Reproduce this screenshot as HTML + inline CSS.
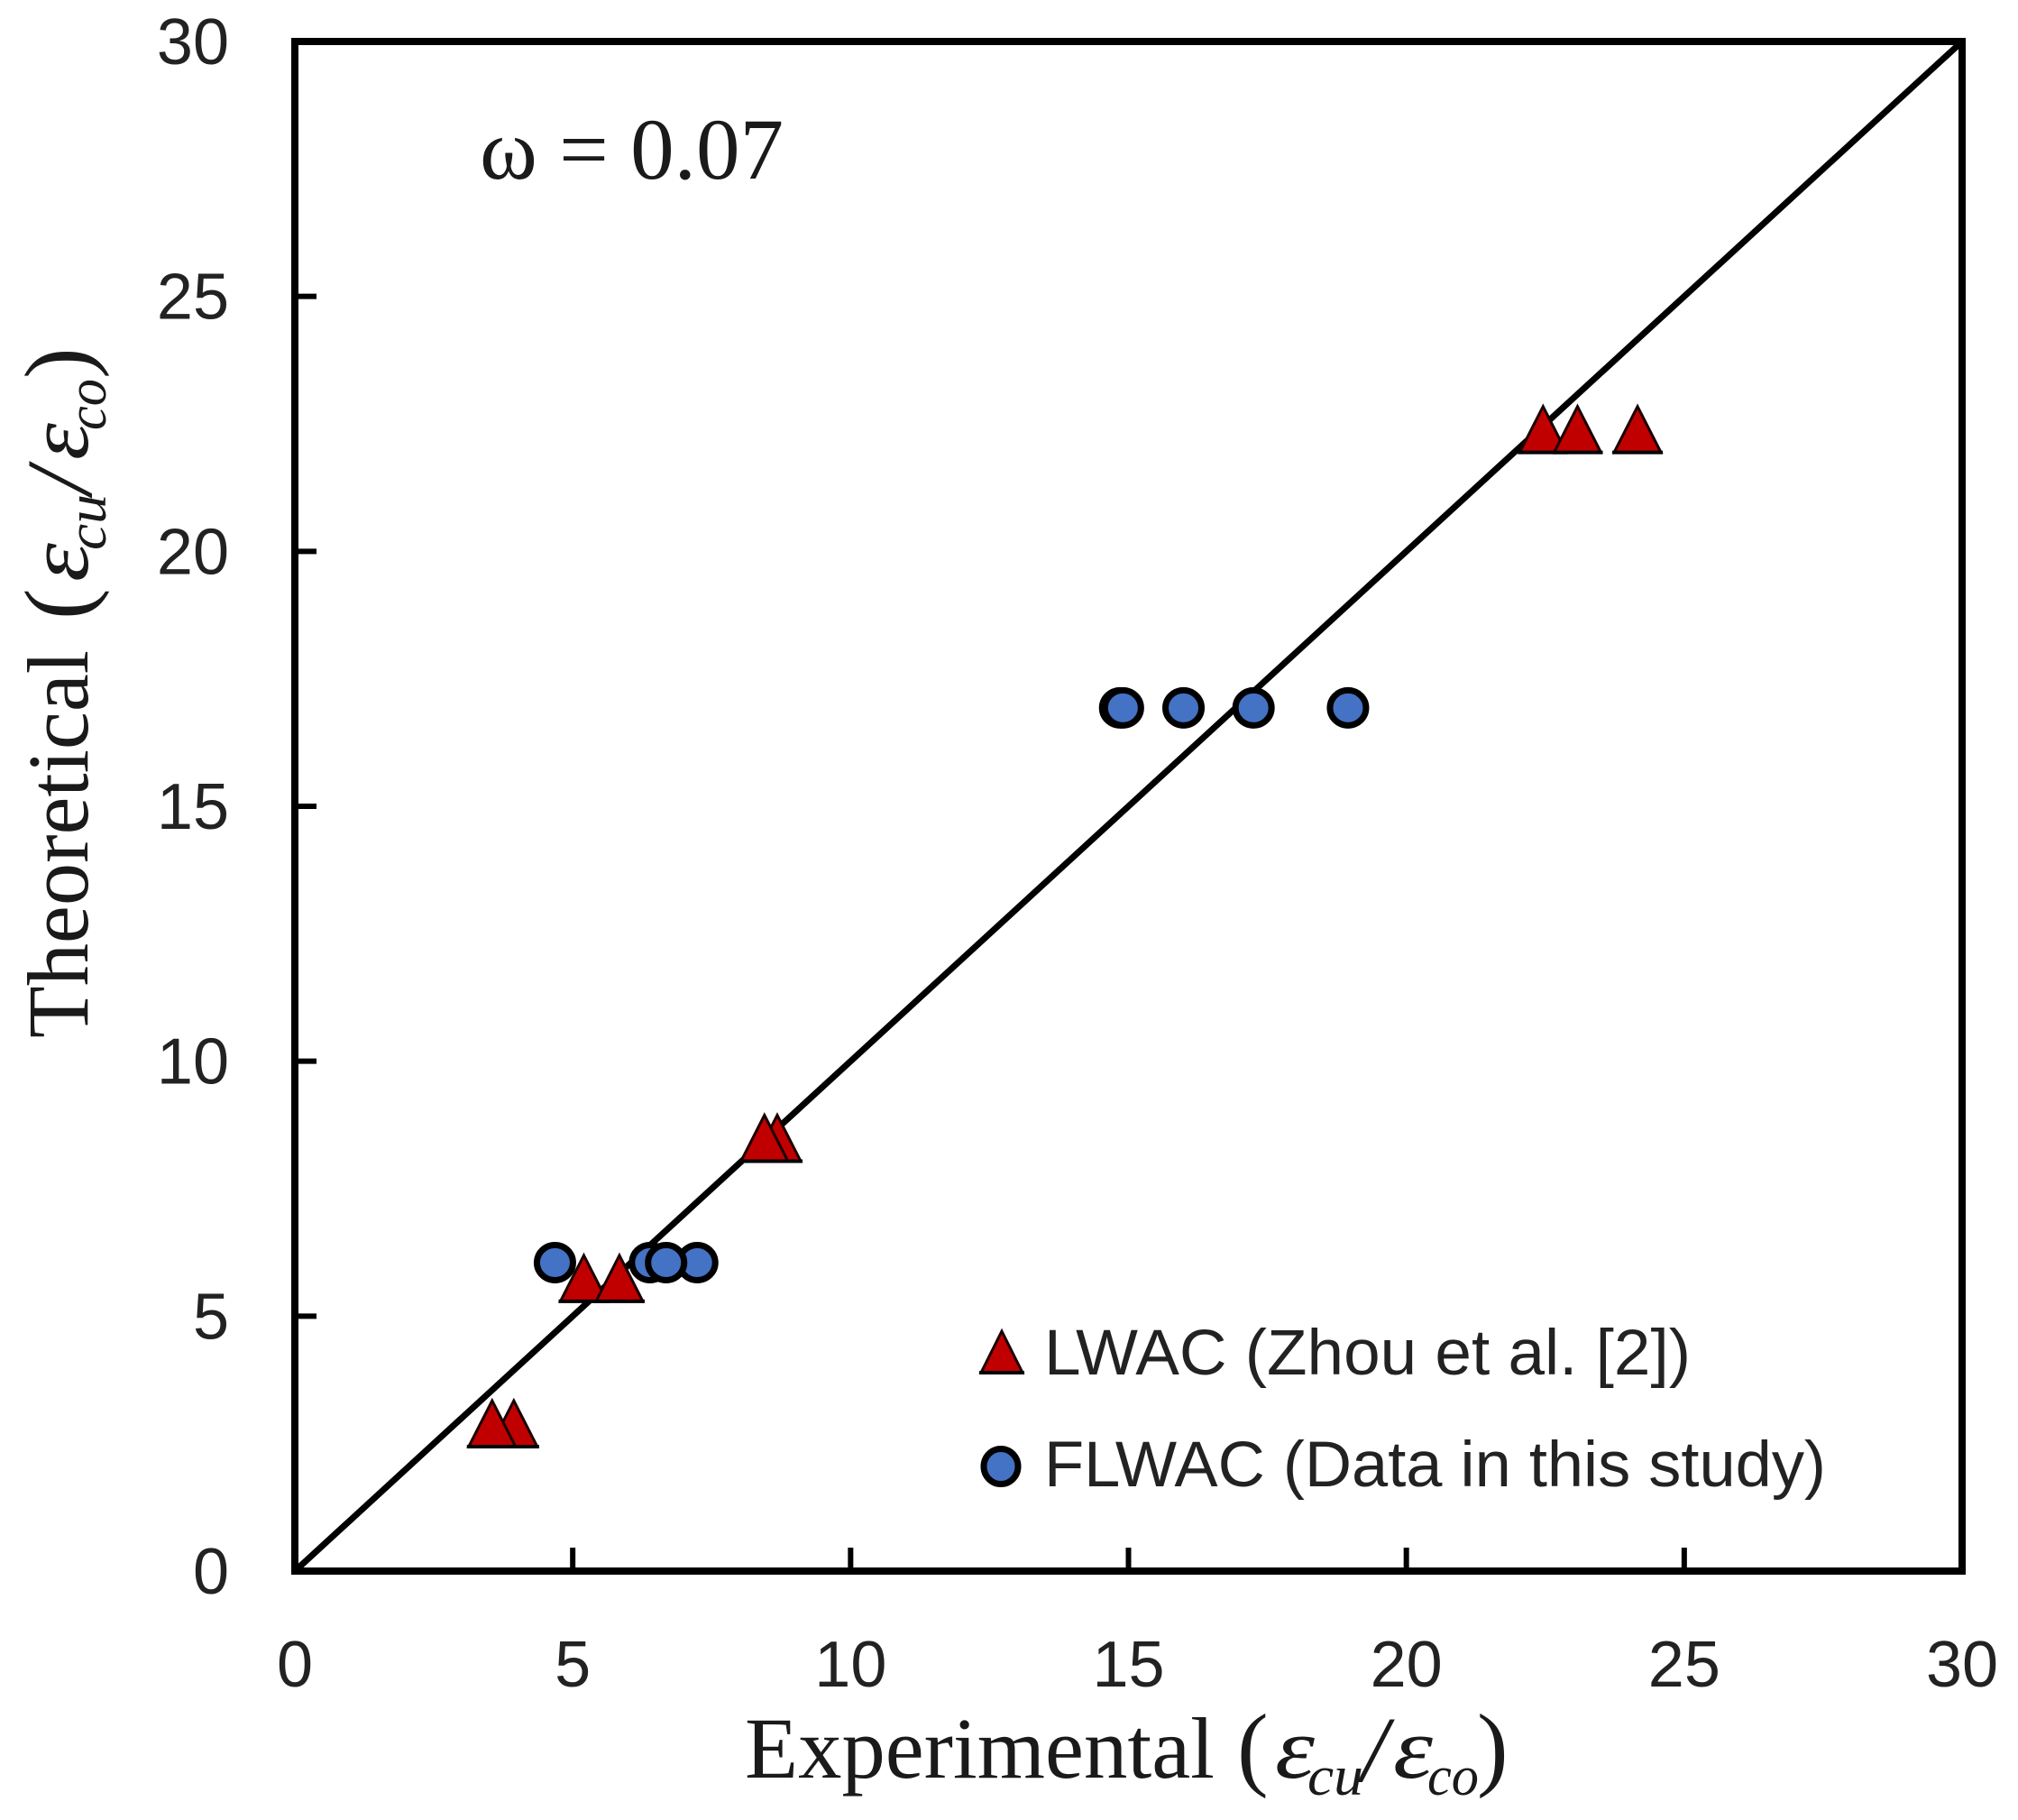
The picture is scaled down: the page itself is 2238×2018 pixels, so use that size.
<!DOCTYPE html>
<html lang="en">
<head>
<meta charset="utf-8">
<title>Theoretical vs Experimental</title>
<style>
  html, body { margin: 0; padding: 0; background: #fff; }
  svg { display: block; }
  .tick { font-family: "Liberation Sans", sans-serif; font-size: 72px; fill: #222; }
  .legend { font-family: "Liberation Sans", sans-serif; font-size: 71px; fill: #222; }
  .title { font-family: "Liberation Serif", serif; font-size: 96px; fill: #1a1a1a; }
  .paren { font-family: "Liberation Serif", serif; font-size: 104px; fill: #1a1a1a; }
  .slash { font-family: "Liberation Serif", serif; font-style: italic; font-size: 104px; fill: #1a1a1a; }
  .eps { font-family: "Liberation Serif", serif; font-style: italic; font-size: 96px; fill: #1a1a1a; }
  .sub { font-family: "Liberation Serif", serif; font-style: italic; font-size: 62px; fill: #1a1a1a; }
</style>
</head>
<body>
<svg id="chart" xmlns="http://www.w3.org/2000/svg" width="2238" height="2018" viewBox="0 0 2238 2018">
  <rect x="0" y="0" width="2238" height="2018" fill="#ffffff"/>
  <g id="plot"></g>

  <text class="title" x="532" y="198" textLength="337" lengthAdjust="spacingAndGlyphs">ω = 0.07</text>

  <g>
    <text class="title" x="826" y="1971" textLength="521" lengthAdjust="spacingAndGlyphs">Experimental</text>
    <text class="paren" x="1372" y="1972">(</text>
    <text class="eps" x="1414" y="1971" textLength="44" lengthAdjust="spacingAndGlyphs">ε</text>
    <text class="sub" x="1450" y="1990" textLength="62" lengthAdjust="spacingAndGlyphs">cu</text>
    <text class="slash" x="1510" y="1975">/</text>
    <text class="eps" x="1545" y="1971" textLength="44" lengthAdjust="spacingAndGlyphs">ε</text>
    <text class="sub" x="1583" y="1990" textLength="57" lengthAdjust="spacingAndGlyphs">co</text>
    <text class="paren" x="1638" y="1972">)</text>
  </g>

  <g transform="translate(97,1151) rotate(-90)">
    <text class="title" x="0" y="0" textLength="430" lengthAdjust="spacingAndGlyphs">Theoretical</text>
    <text class="paren" x="464" y="2">(</text>
    <text class="eps" x="506" y="0" textLength="43" lengthAdjust="spacingAndGlyphs">ε</text>
    <text class="sub" x="541" y="20" textLength="62" lengthAdjust="spacingAndGlyphs">cu</text>
    <text class="slash" x="603" y="4">/</text>
    <text class="eps" x="641" y="0" textLength="41" lengthAdjust="spacingAndGlyphs">ε</text>
    <text class="sub" x="674" y="20" textLength="57" lengthAdjust="spacingAndGlyphs">co</text>
    <text class="paren" x="731" y="2">)</text>
  </g>

  <g>
    <g>
      <path d="M1111 1476 L1134 1522 L1088 1522 Z" fill="#c00000" stroke="#1a0000" stroke-width="3"/>
      <line x1="1086" x2="1136" y1="1522" y2="1522" stroke="#000" stroke-width="4"/>
      <text class="legend" x="1158" y="1524" textLength="717" lengthAdjust="spacingAndGlyphs">LWAC (Zhou et al. [2])</text>
    </g>
    <g>
      <ellipse cx="1110" cy="1626" rx="19" ry="19.5" fill="#4472c4" stroke="#000" stroke-width="7"/>
      <text class="legend" x="1158" y="1648" textLength="867" lengthAdjust="spacingAndGlyphs">FLWAC (Data in this study)</text>
    </g>
  </g>
</svg>
<script>
// Chart data
const xTicks = [0, 5, 10, 15, 20, 25, 30];
const yTicks = [0, 5, 10, 15, 20, 25, 30];
const xTickLabels = ['0', '5', '10', '15', '20', '25', '30'];
const yTickLabels = ['0', '5', '10', '15', '20', '25', '30'];
const diagonalX = [0, 30];
const diagonalY = [0, 30];
const flwacX = [4.68, 7.24, 6.39, 6.68, 14.85, 14.9, 15.99, 17.25, 18.95];
const flwacY = [6.05, 6.05, 6.05, 6.05, 16.93, 16.93, 16.93, 16.93, 16.93];
const lwacX = [3.94, 3.55, 5.2, 5.84, 8.68, 8.45, 22.46, 23.08, 24.16];
const lwacY = [2.9, 2.9, 5.75, 5.75, 8.5, 8.5, 22.4, 22.4, 22.4];

// Axis functions
const AXIS_X0 = 327, AXIS_X1 = 2176, AXIS_Y0 = 1742, AXIS_Y1 = 46;
const AXIS_MAX = 30;
function xScale(v) { return AXIS_X0 + (AXIS_X1 - AXIS_X0) * v / AXIS_MAX; }
function yScale(v) { return AXIS_Y0 - (AXIS_Y0 - AXIS_Y1) * v / AXIS_MAX; }

const NS = 'http://www.w3.org/2000/svg';
const plot = document.getElementById('plot');
function make(tag, attrs, parent) {
  const node = document.createElementNS(NS, tag);
  for (const k in attrs) node.setAttribute(k, attrs[k]);
  (parent || plot).appendChild(node);
  return node;
}

// Diagonal reference line
const diag = make('line', {
  x1: xScale(diagonalX[0]), y1: yScale(diagonalY[0]),
  x2: xScale(diagonalX[1]), y2: yScale(diagonalY[1]),
  stroke: '#000', 'stroke-width': 7
});



// Frame
const frame = make('rect', {
  x: AXIS_X0, y: AXIS_Y1, width: AXIS_X1 - AXIS_X0, height: AXIS_Y0 - AXIS_Y1,
  fill: 'none', stroke: '#000', 'stroke-width': 8
});



// X ticks and labels
xTicks.forEach(function (v, i) {
  if (v > 0 && v < AXIS_MAX) {
    const t = make('line', {
      x1: xScale(v), x2: xScale(v), y1: AXIS_Y0, y2: AXIS_Y0 - 26,
      stroke: '#000', 'stroke-width': 6
    });
    
    
  }
  const label = make('text', {
    class: 'tick', x: xScale(v), y: 1870, 'text-anchor': 'middle'
  });
  label.textContent = xTickLabels[i];
  
  
});

// Y ticks and labels
yTicks.forEach(function (v, i) {
  if (v > 0 && v < AXIS_MAX) {
    const t = make('line', {
      x1: AXIS_X0, x2: AXIS_X0 + 24, y1: yScale(v), y2: yScale(v),
      stroke: '#000', 'stroke-width': 6
    });
    
    
  }
  const label = make('text', {
    class: 'tick', x: 254, y: yScale(v) + 25, 'text-anchor': 'end'
  });
  label.textContent = yTickLabels[i];
  
  
});

// FLWAC circles
flwacX.forEach(function (v, i) {
  const c = make('ellipse', {
    cx: xScale(v), cy: yScale(flwacY[i]), rx: 20, ry: 19.5,
    fill: '#4472c4', stroke: '#000', 'stroke-width': 7
  });
  
  
});

// LWAC triangles
lwacX.forEach(function (v, i) {
  const cx = xScale(v), cy = yScale(lwacY[i]);
  const tri = make('path', {
    d: 'M' + cx + ' ' + (cy - 25) + ' L' + (cx + 26) + ' ' + (cy + 26) + ' L' + (cx - 26) + ' ' + (cy + 26) + ' Z',
    fill: '#c00000', stroke: '#1a0000', 'stroke-width': 3
  });
  
  
  const base = make('line', {
    x1: cx - 28, x2: cx + 28, y1: cy + 26, y2: cy + 26,
    stroke: '#000', 'stroke-width': 4
  });
  
  
});
</script>
</body>
</html>
